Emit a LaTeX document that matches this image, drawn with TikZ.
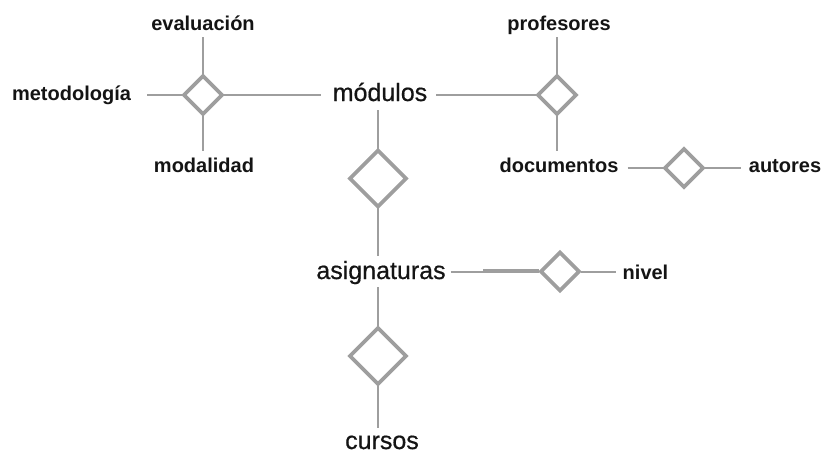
\documentclass[tikz,border=0pt]{standalone}
\usepackage{fontspec}
\setmainfont{Liberation Sans}
\usetikzlibrary{shapes.geometric}

\definecolor{linkgray}{RGB}{158,158,158}
\definecolor{ink}{RGB}{20,20,20}

\tikzset{
  lbl/.style={font=\bfseries\fontsize{20}{20}\selectfont, text=ink, inner sep=0pt,
              text height=14pt, text depth=4pt, anchor=base},
  ent/.style={font=\fontsize{25}{25}\selectfont\addfontfeature{FakeBold=0.6}, text=ink, inner sep=0pt,
              text height=18pt, text depth=5pt, anchor=base},
  rel/.style={diamond, draw=linkgray, line width=3.6pt, fill=white, inner sep=0pt,
              minimum width=38pt, minimum height=38pt, aspect=1},
  bigrel/.style={rel, minimum width=56pt, minimum height=56pt},
  link/.style={draw=linkgray, line width=2pt},
}

\begin{document}
\begin{tikzpicture}[x=1pt, y=-1pt]
  \useasboundingbox (0,0) rectangle (826,453);

  % entities and attributes
  \node[lbl] (ev)   at (203,30)  {evaluación};
  \node[lbl] (met)  at (71.5,100) {metodología};
  \node[lbl] (moda) at (204,172) {modalidad};
  \node[ent] (mod)  at (380,101) {módulos};
  \node[lbl] (prof) at (559,30)  {profesores};
  \node[lbl] (doc)  at (559,172) {documentos};
  \node[lbl] (aut)  at (785,172) {autores};
  \node[ent] (asig) at (381,279) {asignaturas};
  \node[lbl] (niv)  at (645.5,279) {nivel};
  \node[ent] (cur)  at (382,449) {cursos};

  % relationship diamonds
  \node[rel]    (d1) at (203,95)    {};
  \node[rel]    (d2) at (557,95)    {};
  \node[rel]    (d3) at (684,168)   {};
  \node[bigrel] (d4) at (378,178.5) {};
  \node[rel]    (d5) at (560,271.5) {};
  \node[bigrel] (d6) at (378,356)   {};

  % connectors around the first diamond
  \draw[link, shorten >=3pt]  (d1.north) -- (d1.north |- ev.south);
  \draw[link, shorten >=7pt]  (d1.south) -- (d1.south |- moda.north);
  \draw[link, shorten >=16pt] (d1.west) -- (d1.west -| met.east);
  \draw[link, shorten >=12pt] (d1.east) -- (d1.east -| mod.west);

  % módulos to profesores / documentos
  \draw[link, shorten <=9pt]  (d2.west -| mod.east) -- (d2.west);
  \draw[link, shorten >=3pt]  (d2.north) -- (d2.north |- prof.south);
  \draw[link, shorten >=7pt]  (d2.south) -- (d2.south |- doc.north);

  % documentos to autores
  \draw[link, shorten <=9pt]  (d3.west -| doc.east) -- (d3.west);
  \draw[link, shorten >=8pt]  (d3.east) -- (d3.east -| aut.west);

  % módulos to asignaturas
  \draw[link, shorten <=4pt]  (d4.north |- mod.south) -- (d4.north);
  \draw[link, shorten >=5pt]  (d4.south) -- (d4.south |- asig.north);

  % asignaturas to nivel
  \coordinate (dbl) at (483,270);
  \draw[link, shorten <=5pt]  (d5.west -| asig.east) -- (d5.west);
  \draw[link] (dbl) -- (dbl -| d5.west);
  \draw[link, shorten >=7pt]  (d5.east) -- (d5.east -| niv.west);

  % asignaturas to cursos
  \draw[link, shorten <=3pt]  (d6.north |- asig.south) -- (d6.north);
  \draw[link, shorten >=3pt]  (d6.south) -- (d6.south |- cur.north);

  % redraw diamonds over the line ends
  \foreach \d in {d1,d2,d3,d5}
    \draw[draw=linkgray, line width=3.6pt, fill=white]
      (\d.center) ++(0,-19) -- ++(19,19) -- ++(-19,19) -- ++(-19,-19) -- cycle;
  \foreach \d in {d4,d6}
    \draw[draw=linkgray, line width=3.6pt, fill=white]
      (\d.center) ++(0,-28) -- ++(28,28) -- ++(-28,28) -- ++(-28,-28) -- cycle;
\end{tikzpicture}
\end{document}
